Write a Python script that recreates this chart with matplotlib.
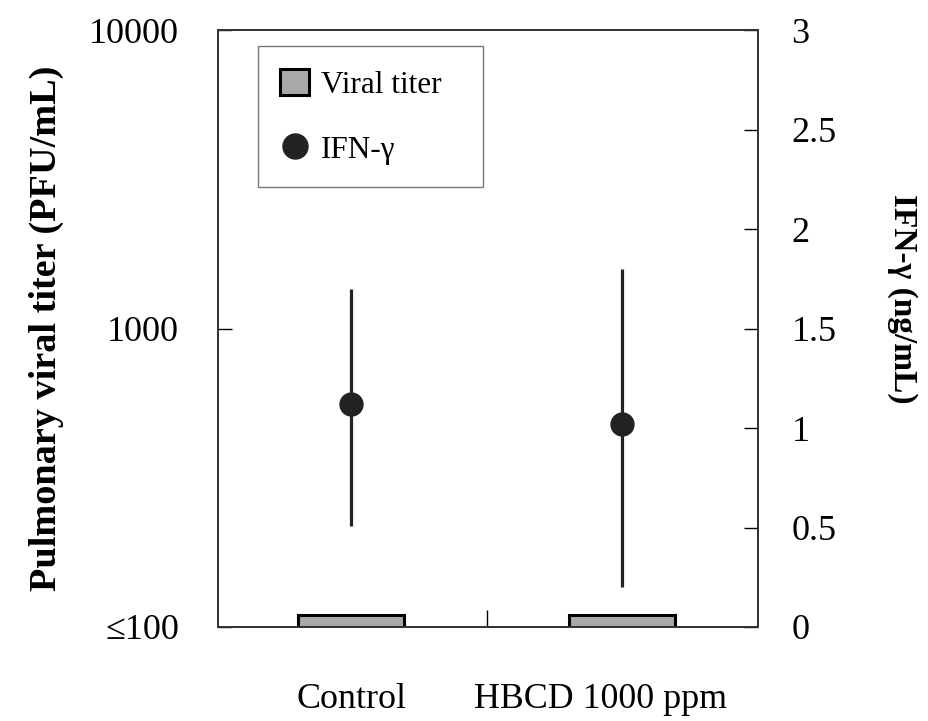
import matplotlib
matplotlib.use("Agg")
import matplotlib.pyplot as plt
import matplotlib.transforms as mtransforms
from matplotlib.patches import Patch
from matplotlib.lines import Line2D

# datos
grupos = ["Control", "HBCD 1000 ppm"]
titulo_viral = [110, 110]          # PFU/mL (en el limite de deteccion, <=100)
ifn = [1.12, 1.02]                 # ng/mL
ifn_bajo = [0.51, 0.20]
ifn_alto = [1.70, 1.80]

plt.rcParams["font.family"] = ["Liberation Serif", "DejaVu Serif"]

fig = plt.figure(figsize=(9.29, 7.21), dpi=100)
ax = fig.add_axes([0.2347, 0.1304, 0.5813, 0.8276])
ax2 = ax.twinx()

x = list(range(len(grupos)))

# barras de titulo viral (eje izquierdo, log)
ax.bar(x, [t - 100 for t in titulo_viral], bottom=100, width=0.39,
       color="#a9a9a9", edgecolor="black", linewidth=2.2, zorder=2)
ax.set_yscale("log")
ax.set_ylim(100, 10000)
ax.set_xlim(-0.49, 1.5)
ax.set_yticks([100, 1000, 10000])
ax.set_yticklabels(["≤100", "1000", "10000"])
ax.yaxis.set_minor_locator(matplotlib.ticker.NullLocator())
ax.tick_params(axis="y", which="major", direction="in", length=10,
               labelsize=26, pad=28, width=1)
ax.set_xticks([0.5])
ax.set_xticklabels([""])
ax.tick_params(axis="x", which="major", direction="in", length=12, width=1)
ax.set_xticks(x, minor=True)
etiquetas = ax.set_xticklabels(grupos, minor=True)
ax.tick_params(axis="x", which="minor", length=0, labelsize=25.8, pad=40)
# la etiqueta de HBCD esta un poco corrida a la izquierda en el original
desplazar = mtransforms.ScaledTranslation(-22 / 100, 0, fig.dpi_scale_trans)
etiquetas[1].set_transform(etiquetas[1].get_transform() + desplazar)
ax.set_ylabel("Pulmonary viral titer (PFU/mL)", fontsize=27.5,
              fontweight="bold", labelpad=18)

# IFN-gamma (eje derecho)
err = [[m - b for m, b in zip(ifn, ifn_bajo)], [a - m for m, a in zip(ifn, ifn_alto)]]
ax2.errorbar(x, ifn, yerr=err, fmt="o", color="#222222", markersize=16.5,
             elinewidth=2.3, capsize=0, zorder=3)
ax2.set_ylim(0, 3)
ax2.set_yticks([0, 0.5, 1, 1.5, 2, 2.5, 3])
ax2.set_yticklabels(["0", "0.5", "1", "1.5", "2", "2.5", "3"])
ax2.tick_params(axis="y", direction="in", length=10, labelsize=26, pad=24, width=1)
ax2.set_ylabel("IFN-γ (ng/mL)", fontsize=24, fontweight="bold",
               rotation=270)
ax2.yaxis.set_label_coords(1.296, 0.55)

for a in (ax, ax2):
    for s in a.spines.values():
        s.set_color("#333333")
        s.set_linewidth(1.3)

handles = [Patch(facecolor="#a9a9a9", edgecolor="black", linewidth=2.2),
           Line2D([], [], marker="o", linestyle="none", color="#222222", markersize=18)]
leg = ax2.legend(handles, ["Viral titer", "IFN-γ"], loc="upper left",
                 bbox_to_anchor=(0.074, 0.973, 0.417, 0.0), mode="expand",
                 fontsize=22.5, fancybox=False,
                 edgecolor="#555555", labelspacing=1.1, handlelength=0.9,
                 handleheight=0.9, borderpad=0.72, handletextpad=0.4, borderaxespad=0)
leg.get_frame().set_linewidth(1)

fig.savefig("out.png", dpi=100)
